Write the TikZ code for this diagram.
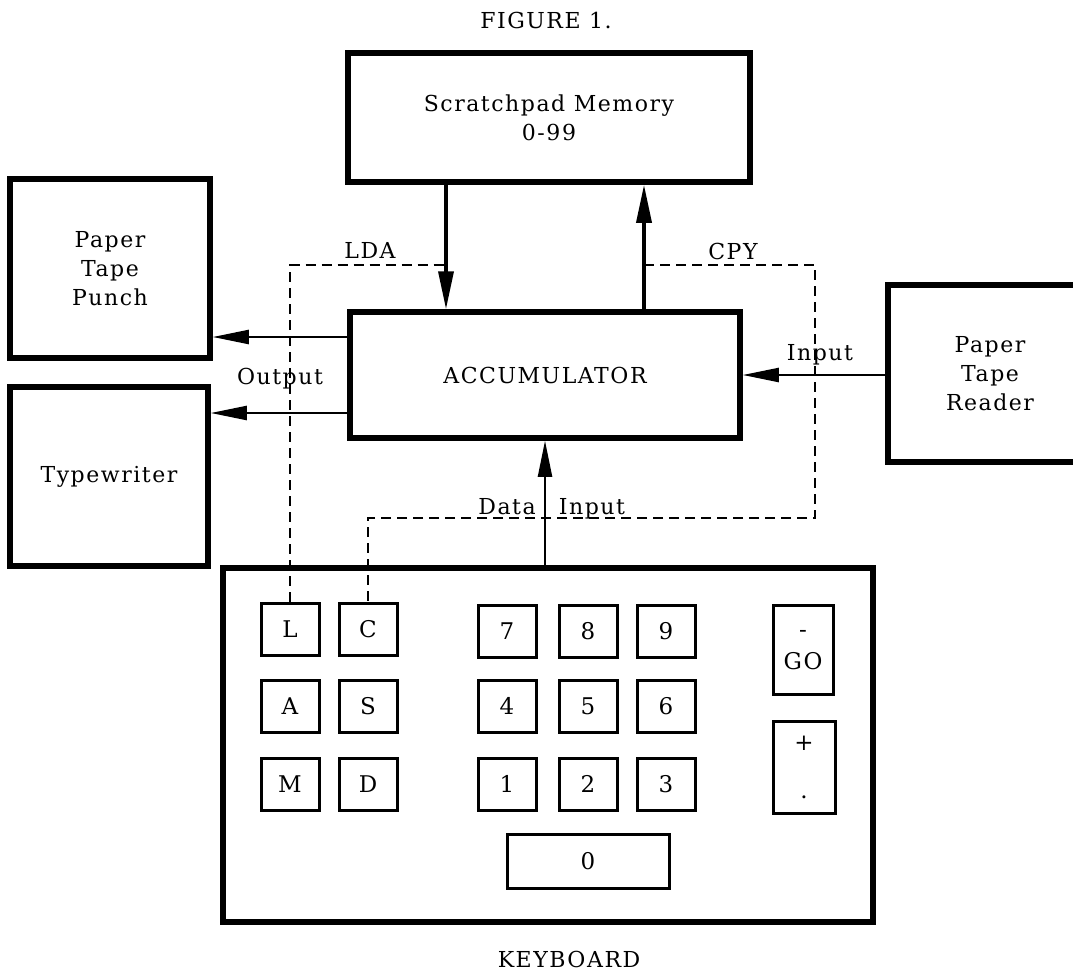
\documentclass[tikz,border=0pt]{standalone}
\usepackage{fontspec}
\setmainfont{DejaVu Serif}
\newfontfamily\figfont[LetterSpace=7]{DejaVu Serif}
\usetikzlibrary{arrows.meta}

\begin{document}
\begin{tikzpicture}[
    x=1pt, y=-1pt,
    unitbox/.style={draw, rectangle, line width=5.5pt, align=center, inner sep=0pt, font=\figfont\fontsize{22}{29}\selectfont},
    keybox/.style={draw, rectangle, line width=3pt, align=center, inner sep=0pt, minimum width=58pt, minimum height=52pt, font=\figfont\fontsize{23}{26}\selectfont},
    lbl/.style={anchor=base, inner sep=0pt, font=\figfont\fontsize{22}{26}\selectfont},
    bigarrow/.style={-{Triangle[length=38pt,width=15pt]}, line width=3.5pt},
    arrow/.style={-{Triangle[length=36pt,width=14pt]}, line width=2.2pt},
    dashline/.style={line width=2.2pt, dash pattern=on 10pt off 6pt}
]
\useasboundingbox (0,0) rectangle (1073,971);
\node[lbl] (title) at (546,29) {FIGURE 1.};
\node[unitbox, minimum width=402pt, minimum height=129pt] (mem) at (549,117.5) {Scratchpad Memory\\0-99};
\node[unitbox, minimum width=390pt, minimum height=126pt] (acc) at (545,375) {ACCUMULATOR};
\node[unitbox, minimum width=200pt, minimum height=179pt] (punch) at (110,268.5) {Paper\\Tape\\Punch};
\node[unitbox, minimum width=198pt, minimum height=179pt] (tw) at (109,476.5) {Typewriter};
\node[unitbox, minimum width=204pt, minimum height=177pt] (reader) at (990,373.5) {Paper\\Tape\\Reader};
\node[unitbox, minimum width=650pt, minimum height=354pt] (kbd) at (548,745) {};
\node[lbl] (kbdlabel) at (569,967) {KEYBOARD};

\node[keybox] (keyL) at (290,629) {L};
\node[keybox] (keyC) at (368,629) {C};
\node[keybox] (keyA) at (290,706) {A};
\node[keybox] (keyS) at (368,706) {S};
\node[keybox] (keyM) at (290,784) {M};
\node[keybox] (keyD) at (368,784) {D};
\node[keybox] (key7) at (507,631) {7};
\node[keybox] (key8) at (588,631) {8};
\node[keybox] (key9) at (666,631) {9};
\node[keybox] (key4) at (507,706) {4};
\node[keybox] (key5) at (588,706) {5};
\node[keybox] (key6) at (666,706) {6};
\node[keybox] (key1) at (507,784) {1};
\node[keybox] (key2) at (588,784) {2};
\node[keybox] (key3) at (666,784) {3};
\node[keybox, minimum width=162pt, minimum height=54pt] (key0) at (588,861) {0};
\node[keybox, minimum width=60pt, minimum height=89pt, font=\figfont\fontsize{23}{32}\selectfont] (keygo) at (803,650) {-\\GO};
\node[keybox, minimum width=62pt, minimum height=92pt, font=\figfont\fontsize{23}{48}\selectfont] (keyplus) at (804,767) {+\\.};

\coordinate (ldajoin) at (446,265);
\coordinate (cpyjoin) at (644,265);
\coordinate (cpyturn) at (815,518);

\draw[bigarrow] (ldajoin |- mem.south) -- (ldajoin |- acc.north);
\draw[bigarrow] (cpyjoin |- acc.north) -- (cpyjoin |- mem.south);
\draw[arrow] ([yshift=38pt]acc.west) -- ([yshift=38pt]acc.west -| punch.east);
\draw[arrow] ([yshift=-38pt]acc.west) -- ([yshift=-38pt]acc.west -| tw.east);
\draw[arrow] (reader.west |- acc.east) -- (acc.east);
\draw[arrow] (kbd.north -| acc.south) -- (acc.south);
\draw[dashline] (keyL.north) |- (ldajoin);
\draw[dashline] (cpyjoin) -| (cpyturn) -| (keyC.north);

\node[lbl] (ldalabel) at (370,258) {LDA};
\node[lbl] (cpylabel) at (733,259) {CPY};
\node[lbl] (outlabel) at (280,384) {Output};
\node[lbl] (inlabel) at (820,360) {Input};
\node[lbl] (datalabel) at (507,514) {Data};
\node[lbl] (datainlabel) at (592,514) {Input};
\end{tikzpicture}
\end{document}
